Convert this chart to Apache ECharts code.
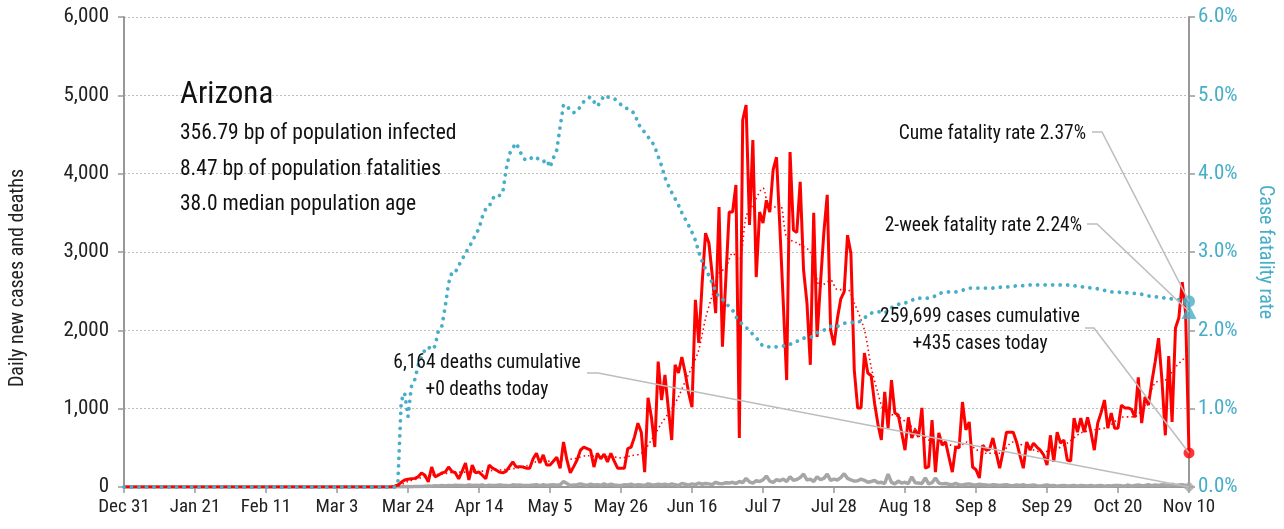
<!DOCTYPE html>
<html>
<head>
<meta charset="utf-8">
<script src="https://cdn.jsdelivr.net/npm/echarts@6/dist/echarts.min.js"></script>
<style>
html,body{margin:0;padding:0;background:#fff;}
#c{width:1284px;height:529px;}
</style>
</head>
<body>
<div id="c"></div>
<script>
// x = days since Dec 31 2019 (0..315)
const tickLabels = ['Dec 31','Jan 21','Feb 11','Mar 3','Mar 24','Apr 14','May 5','May 26','Jun 16','Jul 7','Jul 28','Aug 18','Sep 8','Sep 29','Oct 20','Nov 10'];

// daily new cases, day 0..315
const dailyCases = [
0,0,0,0,0,0,0,0,0,0, 0,0,0,0,0,0,0,0,0,0,
0,0,0,0,0,0,0,0,0,0, 0,0,0,0,0,0,0,0,0,0,
0,0,0,0,0,0,0,0,0,0, 0,0,0,0,0,0,0,0,0,0,
0,0,0,0,0,0,0,0,0,0, 0,0,0,0,0,0,0,0,0,0,
10,25,60,90,100,105,110,130,180,150,
65,255,130,150,180,190,255,200,180,105,
200,306,90,280,180,190,150,105,280,240,
220,190,180,200,260,320,255,260,255,240,
240,360,430,306,410,280,280,330,380,240,
575,345,180,260,345,470,510,490,470,255,
430,360,420,320,430,330,240,240,240,490,
510,640,815,700,190,1140,890,510,1600,1110,
1430,1000,600,1560,1455,1660,1455,1200,1020,2390,
1840,2600,3240,3115,2700,2220,3575,1790,2650,3510,
3510,3855,625,4685,4877,3345,4430,2680,3510,3370,
3660,3510,4050,4210,3300,2350,1365,4275,3280,3250,
3895,2770,2350,1560,3500,1915,2600,3250,3730,2005,
1810,2150,2400,2490,3215,2985,1490,1010,1010,1710,
1455,1420,1070,800,600,1215,750,1365,945,920,
700,470,890,625,730,640,1010,240,260,855,
190,690,535,575,380,190,510,500,1085,730,
830,255,220,115,535,470,480,625,430,240,
450,700,700,700,575,400,240,575,470,560,
510,470,410,280,660,320,700,560,600,345,
330,880,700,880,700,890,700,470,815,950,
1110,750,945,750,750,1045,1010,1010,990,890,
1400,815,1150,1045,1340,1600,1900,1365,660,1670,
830,2030,2160,2615,2220,435
];

// daily new deaths, day 0..315
const dailyDeaths = [
0,0,0,0,0,0,0,0,0,0, 0,0,0,0,0,0,0,0,0,0,
0,0,0,0,0,0,0,0,0,0, 0,0,0,0,0,0,0,0,0,0,
0,0,0,0,0,0,0,0,0,0, 0,0,0,0,0,0,0,0,0,0,
0,0,0,0,0,0,0,0,0,0, 0,0,0,0,0,0,0,0,0,0,
1,2,3,3,5,4,6,8,5,10, 12,10,15,14,18,12,20,15,22,18,
20,15,25,18,22,20,25,12,24,20, 18,26,22,20,15,28,22,25,18,20,
22,25,30,18,28,20,25,30,22,28, 70,45,20,25,30,40,28,20,35,25,
30,22,40,20,35,25,20,18,30,25, 35,20,30,25,18,40,28,25,35,30,
35,25,40,30,20,45,35,25,40,30, 50,35,45,40,30,60,45,40,55,50,
60,45,70,55,110,65,50,80,70,90, 140,75,60,95,80,100,70,130,85,95,
120,165,90,100,70,130,95,110,165,85, 100,90,120,170,110,90,75,80,100,85,
60,70,85,55,60,45,165,60,40,75, 50,60,45,130,55,50,45,115,40,55,
115,50,40,45,35,30,45,30,25,35, 40,30,25,35,30,25,20,30,25,20,
25,30,20,15,25,20,30,15,20,25, 15,10,20,25,15,20,10,15,20,12,
15,20,10,18,15,12,20,10,15,20, 10,15,12,18,20,15,12,25,10,20,
25,15,20,30,15,25,20,30,25,15, 35,20,25,30,20,0
];

// 7-day average of cases, read at sample days
const avgDays = [0,80,84,88,91,95,98,102,105,109,112,116,119,123,126,130,133,137,140,144,147,150,153,156,159,162,164,166,168,170,172,174,176,178,180,182,184,186,189,191,194,196,199,203,206,209,211,214,216,219,221,223,225,229,233,236,238,241,244,247,249,252,255,259,263,267,271,275,279,283,287,291,295,299,302,305,308,311,314,315];
const avgCases = [0,0,70,120,150,170,190,190,200,210,220,240,270,330,330,350,360,400,390,390,370,400,430,600,815,1000,1150,1350,1530,1750,2150,2450,2730,2800,2985,2900,3450,3600,3815,3550,3600,3190,3115,3000,2560,2640,2520,2520,2350,2005,1530,1200,960,900,770,690,600,560,540,510,575,480,430,430,575,510,450,470,560,690,730,765,890,900,1045,1330,1365,1530,1660,1700];

// case fatality rate (%), day 0..315
const fatalityRate = [
0,0,0,0,0,0,0,0,0,0, 0,0,0,0,0,0,0,0,0,0,
0,0,0,0,0,0,0,0,0,0, 0,0,0,0,0,0,0,0,0,0,
0,0,0,0,0,0,0,0,0,0, 0,0,0,0,0,0,0,0,0,0,
0,0,0,0,0,0,0,0,0,0, 0,0,0,0,0,0,0,0,0,0,
0,0.05,1.1,1.2,0.9,1.28,1.37,1.55,1.66,1.75,
1.79,1.75,1.8,2.0,2.05,2.3,2.6,2.74,2.74,2.83,
2.9,2.99,3.05,3.14,3.22,3.3,3.45,3.55,3.58,3.68,
3.73,3.72,3.75,4.05,4.25,4.33,4.39,4.3,4.2,4.17,
4.18,4.22,4.2,4.18,4.15,4.18,4.08,4.2,4.3,4.6,
4.88,4.87,4.8,4.78,4.79,4.86,4.92,4.96,4.98,4.92,
4.86,4.92,5.0,4.98,4.97,4.96,4.92,4.88,4.84,4.83,
4.8,4.77,4.65,4.57,4.53,4.47,4.42,4.34,4.22,4.1,
3.95,3.85,3.76,3.68,3.6,3.5,3.42,3.34,3.25,3.15,
3.0,2.88,2.78,2.7,2.6,2.5,2.42,2.4,2.35,2.3,
2.26,2.17,2.12,2.07,2.04,1.99,1.95,1.91,1.84,1.8,
1.79,1.79,1.78,1.79,1.8,1.8,1.8,1.82,1.85,1.86,
1.87,1.9,1.91,1.91,1.93,1.97,1.98,2.0,2.04,2.05,
2.04,2.05,2.07,2.09,2.1,2.1,2.1,2.1,2.12,2.16,
2.19,2.22,2.23,2.24,2.23,2.22,2.25,2.29,2.31,2.33,
2.35,2.35,2.36,2.38,2.41,2.41,2.41,2.41,2.41,2.42,
2.44,2.47,2.48,2.49,2.49,2.49,2.49,2.5,2.51,2.53,
2.54,2.54,2.54,2.54,2.54,2.54,2.54,2.54,2.55,2.55,
2.55,2.55,2.56,2.56,2.57,2.57,2.57,2.58,2.58,2.58,
2.58,2.58,2.58,2.58,2.58,2.58,2.58,2.58,2.58,2.58,
2.57,2.57,2.56,2.56,2.55,2.55,2.54,2.54,2.53,2.52,
2.51,2.5,2.49,2.49,2.49,2.48,2.48,2.48,2.48,2.47,
2.47,2.46,2.45,2.44,2.43,2.43,2.42,2.42,2.41,2.41,
2.4,2.4,2.39,2.38,2.38,2.37
];

const lastDay = 315;
const cumeFatality = 2.37;
const twoWeekFatality = 2.24;
const stateName = 'Arizona';
const statLines = ['356.79 bp of population infected','8.47 bp of population fatalities','38.0 median population age'];
const casesLabel = ['259,699 cases cumulative','+435 cases today'];
const deathsLabel = ['6,164 deaths cumulative','+0 deaths today'];
const leftAxisName = 'Daily new cases and deaths';
const rightAxisName = 'Case fatality rate';

const FONT = "'Liberation Sans Narrow','Roboto Condensed','Roboto',sans-serif";
const CYAN = '#47aec8';
const RED = '#ff0000';
const GRAY = '#a6a6a6';
const AXIS = '#999999';

const chart = echarts.init(document.getElementById('c'), null, {renderer:'canvas'});

const option = {
  animation:false,
  backgroundColor:'#fff',
  grid:{left:124,right:95,top:17,bottom:42,containLabel:false},
  xAxis:{
    type:'value',min:0,max:315,interval:21,
    axisLine:{show:true,lineStyle:{color:AXIS,width:2}},
    axisTick:{show:true,inside:false,length:6,lineStyle:{color:AXIS,width:1.5}},
    splitLine:{show:false},
    axisLabel:{color:'#222',fontFamily:FONT,fontSize:19,margin:11,
      formatter:v=>tickLabels[Math.round(v/21)]||''}
  },
  yAxis:[{
    type:'value',min:0,max:6000,interval:1000,
    axisLine:{show:true,lineStyle:{color:AXIS,width:2}},
    axisTick:{show:true,inside:false,length:6,lineStyle:{color:AXIS,width:1.5}},
    splitLine:{show:true,lineStyle:{color:'#bdbdbd',type:[2,2],width:1}},
    axisLabel:{color:'#222',fontFamily:FONT,fontSize:21,margin:15,
      formatter:v=>v.toLocaleString('en-US')}
  },{
    type:'value',min:0,max:6,interval:1,position:'right',
    axisLine:{show:true,lineStyle:{color:AXIS,width:2}},
    axisTick:{show:true,inside:false,length:6,lineStyle:{color:AXIS,width:1.5}},
    splitLine:{show:false},
    axisLabel:{color:CYAN,fontFamily:FONT,fontSize:21,margin:9,
      formatter:v=>v.toFixed(1)+'%'}
  }],
  series:[
    {type:'line',name:'deaths',data:dailyDeaths.map((v,i)=>[i,v]),showSymbol:false,
      lineStyle:{color:GRAY,width:3.5},z:3},
    {type:'line',name:'cases',data:dailyCases.map((v,i)=>[i,v]),showSymbol:false,
      lineStyle:{color:RED,width:3},z:4},
    {type:'line',name:'avg',data:avgDays.map((d,i)=>[d,avgCases[i]]),showSymbol:false,smooth:0.3,
      lineStyle:{color:RED,width:1.6,type:[1.5,3]},z:5},
    {type:'line',name:'cfr',yAxisIndex:1,data:fatalityRate.map((v,i)=>[i,v]),showSymbol:false,
      lineStyle:{color:CYAN,width:3.8,type:[0.01,7.5],cap:'round'},z:6},
    {type:'scatter',name:'cume',yAxisIndex:1,data:[[lastDay,cumeFatality]],symbol:'circle',symbolSize:12,
      itemStyle:{color:CYAN},z:8},
    {type:'scatter',name:'twoweek',yAxisIndex:1,data:[[lastDay,twoWeekFatality]],symbol:'triangle',symbolSize:15,
      itemStyle:{color:CYAN},z:8},
    {type:'scatter',name:'lastcases',data:[[lastDay,dailyCases[lastDay]]],symbol:'circle',symbolSize:11,
      itemStyle:{color:RED},z:8},
    {type:'scatter',name:'lastdeaths',data:[[lastDay,dailyDeaths[lastDay]]],symbol:'diamond',symbolSize:12,
      itemStyle:{color:GRAY},z:8}
  ]
};
chart.setOption(option);

const pCume = chart.convertToPixel({seriesIndex:4},[lastDay,cumeFatality]);
const pTwo = chart.convertToPixel({seriesIndex:5},[lastDay,twoWeekFatality]);
const pCases = chart.convertToPixel({seriesIndex:6},[lastDay,dailyCases[lastDay]]);
const pDeaths = chart.convertToPixel({seriesIndex:7},[lastDay,dailyDeaths[lastDay]]);

function txt(x,y,text,size,align,color,extra){
  const o = {type:'text',x:x,y:y,z:100,style:{text:text,fontFamily:FONT,fontSize:size,fill:color||'#111',align:align||'left',verticalAlign:'middle'}};
  if (extra) Object.assign(o, extra);
  return o;
}
function leader(x1,y1,x2,pt){
  return {type:'polyline',z:50,shape:{points:[[x1,y1],[x2,y1],pt]},style:{stroke:'#bdbdbd',lineWidth:1.5,fill:null}};
}
const g = [
  txt(180,95,stateName,31,'left','#111'),
  txt(180,134,statLines[0],21.5),
  txt(180,170,statLines[1],21.5),
  txt(180,205,statLines[2],21.5),
  txt(1086,134,'Cume fatality rate '+cumeFatality.toFixed(2)+'%',19.5,'right'),
  leader(1092,132,1102,pCume),
  txt(1082,226,'2-week fatality rate '+twoWeekFatality.toFixed(2)+'%',19.5,'right'),
  leader(1087,224,1097,pTwo),
  txt(980,317,casesLabel[0],19.5,'center'),
  txt(980,344,casesLabel[1],19.5,'center'),
  leader(1085,328,1094,pCases),
  txt(487,363,deathsLabel[0],19.5,'center'),
  txt(487,390,deathsLabel[1],19.5,'center'),
  leader(587,373,598,pDeaths),
  txt(18,278,leftAxisName,20,'center','#222',{rotation:Math.PI/2}),
  txt(1265,252,rightAxisName,20,'center',CYAN,{rotation:-Math.PI/2})
];
chart.setOption({graphic:g});
</script>
</body>
</html>
